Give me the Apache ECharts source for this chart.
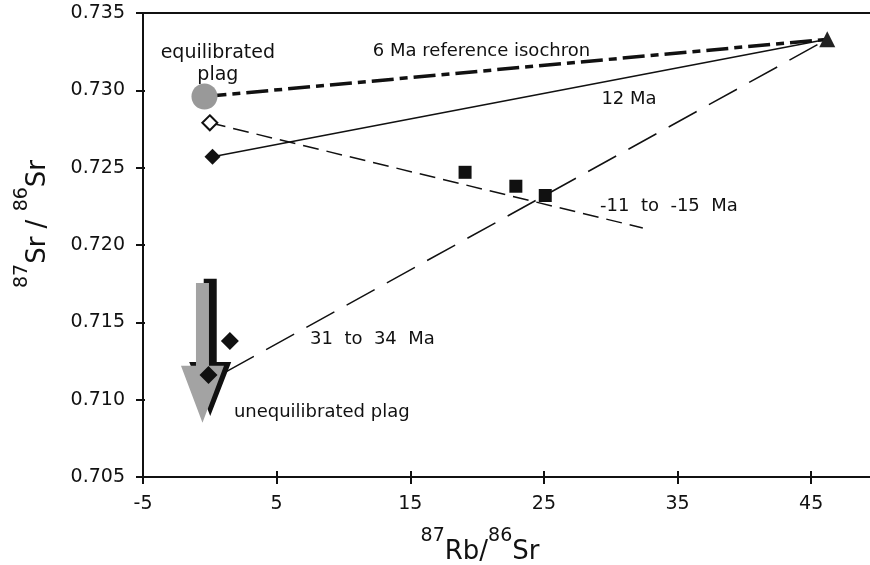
<!DOCTYPE html>
<html>
<head>
<meta charset="utf-8">
<script src="https://cdn.jsdelivr.net/npm/echarts@6/dist/echarts.min.js"></script>
<style>
html, body { margin: 0; padding: 0; background: #fff; }
#chart { width: 870px; height: 565px; }
</style>
</head>
<body>
<div id="chart"></div>
<script>
// Rb-Sr isochron plot: plagioclase vs whole rock

var xTicks = [-5, 5, 15, 25, 35, 45];

// measured points [87Rb/86Sr, 87Sr/86Sr]
var equilPlag = [[-0.4, 0.7296]];
var openDiamond = [[0.0, 0.7279]];
var filledDiamond = [[0.2, 0.7257]];
var lowDiamonds = [[-0.1, 0.7116], [1.5, 0.7138]];
var squares = [[19.1, 0.7247], [22.9, 0.7238], [25.1, 0.7232]];
var wholeRock = [[46.2, 0.7333]];

// isochron lines
var iso6Ma = [[-0.4, 0.7296], [46.2, 0.7333]];
var iso12Ma = [[0.2, 0.7257], [46.2, 0.7333]];
var isoNeg = [[0.0, 0.7279], [32.4, 0.7211]];
var iso31Ma = [[1.2, 0.7118], [46.2, 0.7333]];

// arrows [x, top, tip]
var blackArrow = [[0.03, 0.71781, 0.70894]];
var grayArrow = [[-0.55, 0.71755, 0.70851]];

// text notes [x, y, text]
var notes = [
  [12.2, 0.7325, '6 Ma reference isochron'],
  [29.3, 0.7294, '12 Ma'],
  [29.2, 0.7225, '-11  to  -15  Ma'],
  [7.5, 0.7139, '31  to  34  Ma'],
  [1.8, 0.7092, 'unequilibrated plag']
];
var plagNote = [[0.6, 0.7317, 'equilibrated\nplag']];

var FONT = 'DejaVu Sans';
var INK = '#111';

function arrowRenderer(color, shaftHalf, headHalf, headLen) {
  return function (params, api) {
    var top = api.coord([api.value(0), api.value(1)]);
    var tip = api.coord([api.value(0), api.value(2)]);
    var cx = top[0];
    var baseY = tip[1] - headLen;
    return {
      type: 'polygon',
      shape: {
        points: [
          [cx - shaftHalf, top[1]], [cx + shaftHalf, top[1]],
          [cx + shaftHalf, baseY], [cx + headHalf, baseY],
          [cx, tip[1]],
          [cx - headHalf, baseY], [cx - shaftHalf, baseY]
        ]
      },
      style: { fill: color }
    };
  };
}

function lineSeries(data, width, dash) {
  return {
    type: 'line', data: data, symbol: 'none', z: 2, silent: true,
    lineStyle: { color: INK, width: width, type: dash }
  };
}

function pointSeries(data, symbol, size, fill, border) {
  return {
    type: 'scatter', data: data, symbol: symbol, symbolSize: size, z: 5,
    itemStyle: { color: fill, borderColor: border || fill, borderWidth: border ? 2 : 0, opacity: 1 }
  };
}

var supStyle = { fontFamily: FONT, fontSize: 19, color: INK, verticalAlign: 'top', lineHeight: 14 };
var baseStyle = { fontFamily: FONT, fontSize: 26, color: INK, verticalAlign: 'bottom', lineHeight: 38 };

var chart = echarts.init(document.getElementById('chart'));

var option = {
  animation: false,
  backgroundColor: '#fff',
  grid: { left: 143, right: 0, top: 13, bottom: 88, containLabel: false, outerBoundsMode: 'none' },
  xAxis: [
    {
      type: 'value', min: -5, max: 49.4,
      position: 'bottom',
      name: '{s|87}{b|Rb/}{s|86}{b|Sr}',
      nameLocation: 'middle', nameGap: 50,
      nameTextStyle: {
        padding: [0, 53, 0, 0],
        rich: { s: supStyle, b: baseStyle }
      },
      splitLine: { show: false },
      axisLine: { onZero: false, lineStyle: { color: INK, width: 2 } },
      axisTick: { customValues: xTicks, length: 7, lineStyle: { color: INK, width: 2 } },
      axisLabel: {
        customValues: xTicks, margin: 18,
        fontFamily: FONT, fontSize: 19, color: INK
      }
    },
    {
      type: 'value', min: -5, max: 49.4, position: 'bottom',
      splitLine: { show: false },
      axisLine: { show: false, onZero: false },
      axisTick: { customValues: xTicks, inside: true, length: 6, lineStyle: { color: INK, width: 2 } },
      axisLabel: { show: false }
    },
    {
      type: 'value', min: -5, max: 49.4, position: 'top',
      splitLine: { show: false },
      axisLine: { onZero: false, lineStyle: { color: INK, width: 2 } },
      axisTick: { show: false },
      axisLabel: { show: false }
    }
  ],
  yAxis: [
    {
      type: 'value', min: 0.705, max: 0.735, interval: 0.005,
      position: 'left',
      name: '{s|87}{b|Sr / }{s|86}{b|Sr}',
      nameLocation: 'middle', nameRotate: 90, nameGap: 92,
      nameTextStyle: {
        padding: [0, 0, 0, 42],
        rich: { s: supStyle, b: baseStyle }
      },
      splitLine: { show: false },
      axisLine: { onZero: false, lineStyle: { color: INK, width: 2 } },
      axisTick: { length: 7, lineStyle: { color: INK, width: 2 } },
      axisLabel: {
        margin: 18, fontFamily: FONT, fontSize: 19, color: INK,
        formatter: function (v) { return v.toFixed(3); }
      }
    },
    {
      type: 'value', min: 0.705, max: 0.735, interval: 0.005,
      position: 'left',
      splitLine: { show: false },
      axisLine: { show: false, onZero: false },
      axisTick: { inside: true, length: 2, lineStyle: { color: INK, width: 2 } },
      axisLabel: { show: false }
    }
  ],
  series: [
    lineSeries(iso6Ma, 3.5, [22, 6, 8, 6]),
    lineSeries(iso12Ma, 1.5, 'solid'),
    lineSeries(isoNeg, 1.5, [16, 8]),
    lineSeries(iso31Ma, 1.5, [32, 14]),
    {
      type: 'custom', data: blackArrow, z: 3, silent: true,
      encode: { x: 0, y: [1, 2] },
      renderItem: arrowRenderer('#111', 6.5, 21, 54)
    },
    {
      type: 'custom', data: grayArrow, z: 4, silent: true,
      encode: { x: 0, y: [1, 2] },
      renderItem: arrowRenderer('#a3a3a3', 6.5, 21.5, 57)
    },
    pointSeries(equilPlag, 'circle', 26, '#999'),
    pointSeries(openDiamond, 'diamond', 15, '#fff', INK),
    pointSeries(filledDiamond, 'diamond', 16, INK),
    pointSeries(lowDiamonds, 'diamond', 18, INK),
    pointSeries(squares, 'rect', 13, INK),
    pointSeries(wholeRock, 'triangle', 16, '#222'),
    {
      type: 'scatter', symbolSize: 0, z: 6, silent: true,
      itemStyle: { opacity: 1 },
      data: notes.map(function (n) { return { value: [n[0], n[1]], name: n[2] }; }),
      label: {
        show: true, position: 'right', distance: 0, formatter: '{b}',
        fontFamily: FONT, fontSize: 18, color: INK, opacity: 1
      }
    },
    {
      type: 'scatter', symbolSize: 0, z: 6, silent: true,
      itemStyle: { opacity: 1 },
      data: plagNote.map(function (n) { return { value: [n[0], n[1]], name: n[2] }; }),
      label: {
        show: true, position: 'inside', formatter: '{b}', align: 'center',
        fontFamily: FONT, fontSize: 19, lineHeight: 22, color: INK, opacity: 1
      }
    }
  ]
};

chart.setOption(option);
</script>
</body>
</html>
